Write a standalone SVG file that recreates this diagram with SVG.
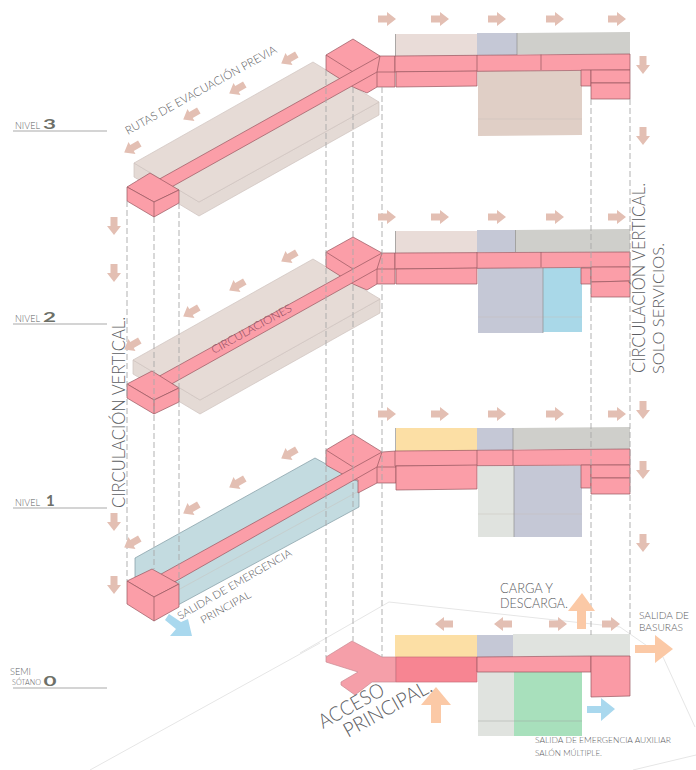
<svg xmlns="http://www.w3.org/2000/svg" width="696" height="770" viewBox="0 0 696 770">
<style>
text{font-family:"Lato","Open Sans","Liberation Sans",sans-serif;font-weight:300;fill:#5c5d62}
.p{fill:#fb9ea8;stroke:#97565f;stroke-width:.7;stroke-linejoin:round}
.pl{fill:none;stroke:#97565f;stroke-width:.7}
.dash{fill:none;stroke:#a8a8a8;stroke-width:.9;stroke-dasharray:6 3}
.slab{fill:#e6dbd6;stroke:#cfc3be;stroke-width:.7}
.slabs{fill:#e4dad5;stroke:#cfc3be;stroke-width:.7}
.teal{fill:#c3dbe0;stroke:#7f9aa2;stroke-width:.7}
.hl{stroke:#c8bdb8;stroke-width:.6;fill:none;opacity:.7}
.rule{stroke:#a9a9a9;stroke-width:1;fill:none}
.site{stroke:#e6e6e6;stroke-width:1;fill:none}
.beige{fill:#e9dcd8}.bg{fill:#c5c8d6}.gr{fill:#cfcfcb}.tan{fill:#e0cfc6}.lb{fill:#a9d8e8}.ye{fill:#fcdfa5}.lg{fill:#e0e3df}.green{fill:#a8e0bc}
.edge{stroke:#8f8f8f;stroke-width:.7;fill:none}
.num{font-weight:700;fill:#6d7068}
</style>
<defs>
<path id="ar" d="M-9,-3.500H0V-7L9,0L0,7V3.500H-9Z" fill="#e3bfb3"/>
</defs>

<g id="site-outline">
<path class="site" d="M90,770L320,643M300,653L389,602L620,627L663,657L695,727M696,755L633,770"/>
</g>

<g id="level3-left">
<path class="slabs" d="M134,163V177L199,216L379,115V102L199,202Z"/>
<path class="slab" d="M134,163L313,62L379,102L199,202Z"/>
<path class="p" d="M326,55L353,39L380,56L395,56V87H377L367,93L353,87L326,70Z"/>
<path class="pl" d="M326,55L353,72M377,72H395M377,72V87"/>
<path class="p" d="M155,181.500L380,56L377,72L167,189.500Z"/>
<path class="p" d="M127,187L150,173L179,190L154,202Z"/>
<path class="p" d="M127,187V201L154,217L179,203V190L154,202Z"/>
<path class="pl" d="M154,202V217"/>
</g>
<g id="level3-right">
<path class="beige" d="M395,34H477V56H395Z"/><path class="bg" d="M477,33H517V55H477Z"/><path class="gr" d="M517,33L630,32V54H517Z"/>
<path class="tan" d="M478,71H582V135L478,136Z"/><path class="hl" d="M478,119H582"/>
<path class="edge" d="M395.500,34V56M517,33V55"/>
<path class="p" d="M395,56L630,54V70L395,72Z"/>
<path class="p" d="M396,71.800L477,71V86L396,87Z"/>
<path class="p" d="M581,70H591V86H581Z"/>
<path class="p" d="M591,70H630V83H591Z"/>
<path class="p" d="M591,83H630V99H591Z"/>
<path class="pl" d="M477,55V71M541,54.500V70"/>
</g>

<g id="level2-left">
<path class="slabs" d="M133,360V374L200,414L380,313V299L200,400Z"/>
<path class="slab" d="M133,360L313,259L380,299L200,400Z"/>
<path class="p" d="M326,252L353,237L382,253L395,253V284H377L367,290L353,284L326,267Z"/>
<path class="pl" d="M326,252L353,269M377,269H395M377,269V284"/>
<path class="p" d="M155,378.500L382,253L377,269L167,386.500Z"/>
<path class="p" d="M127,384L152,371L179,388L154,400Z"/>
<path class="p" d="M127,384V398L154,414L179,402V388L154,400Z"/>
<path class="pl" d="M154,400V414"/>
</g>
<g id="level2-right">
<path class="beige" d="M395,231H477V253H395Z"/><path class="bg" d="M477,230H515V252H477Z"/><path class="gr" d="M515,230L630,229V252H515Z"/>
<path class="bg" d="M478,268H543V333H478Z"/><path class="lb" d="M543,268H582V332H543Z"/><path class="hl" d="M478,317H582"/>
<path class="edge" d="M395.500,231V253M515.500,230V252M543,268V333"/>
<path class="p" d="M395,253L630,252V267L395,269Z"/>
<path class="p" d="M396,269L477,268V284H396Z"/>
<path class="p" d="M581,268H591V284H581Z"/>
<path class="p" d="M591,267H630V281L591,282Z"/>
<path class="p" d="M591,282L630,281V297H591Z"/>
<path class="pl" d="M477,252V268M541,252V267"/>
</g>

<g id="level1-left">
<path class="teal" d="M135,558V577L178,605L359,507V482L315,458Z"/>
<path class="hl" d="M178,590L359,491"/>
<path class="p" d="M326,450L353,434L382,452L396,451V483H377L358,493V480L353,480L326,465Z"/>
<path class="pl" d="M326,450L353,467M377,467H396M377,467V483"/>
<path class="p" d="M155,577.400L382,452L377,467L170,584.500Z"/>
<path class="p" d="M127,581L152,569L179,584L154,597Z"/>
<path class="p" d="M127,581V604L154,621L179,607V584L154,597Z"/>
<path class="pl" d="M154,597V621"/>
</g>
<g id="level1-right">
<path class="ye" d="M396,428H477V451H396Z"/><path class="bg" d="M477,428H513V450H477Z"/><path class="gr" d="M513,428L630,427V449H513Z"/>
<path class="lg" d="M478,466H514V537H478Z"/><path class="bg" d="M514,466H582V537H514Z"/><path class="hl" d="M478,514H582"/>
<path class="edge" d="M395.500,428V451M513,428V450M514,466V537"/>
<path class="p" d="M395,451L630,449V465L395,466Z"/>
<path class="p" d="M396,466L477,465V489L396,490Z"/>
<path class="p" d="M581,465H591V488H581Z"/>
<path class="p" d="M591,465H630V478H591Z"/>
<path class="p" d="M591,478H630V494H591Z"/>
<path class="pl" d="M477,450V465M513,450V465"/>
</g>

<g id="semi-basement">
<path class="ye" d="M395,635H477V657H395Z"/><path class="bg" d="M477,635H513V657H477Z"/><path class="lg" d="M513,634H630V656H513Z"/>
<path class="lg" d="M478,672H514V736H478Z"/><path class="green" d="M514,672H582V736H514Z"/><path class="hl" d="M478,721H582" style="stroke:#9a9a9a"/>
<path d="M326,657L352,641L382,657H396V682H372L355,695L341,685V682L358,672L326,662Z" fill="#f59fa9" stroke="#c98a92" stroke-width=".7"/>
<path d="M396,657H477V682H396Z" fill="#f78592" stroke="#c76e79" stroke-width=".7"/>
<path d="M477,657L591,656V672H477Z" fill="#fa9aa5" stroke="#97565f" stroke-width=".7"/>
<path d="M591,656H630V696L591,697Z" fill="#fa9aa5" stroke="#97565f" stroke-width=".7"/>
</g>

<g id="connectors">
<path class="dash" d="M127,201V581M154,217V569M179,203V584M326,70V657M353,87V641M382,87V657M591,99V635M630,99V634"/>
</g>

<g id="arrows">
<use href="#ar" x="387" y="19"/><use href="#ar" x="440" y="19"/><use href="#ar" x="497" y="19"/><use href="#ar" x="555" y="19"/><use href="#ar" x="617" y="19"/>
<use href="#ar" x="387" y="217"/><use href="#ar" x="440" y="217"/><use href="#ar" x="497" y="217"/><use href="#ar" x="555" y="217"/><use href="#ar" x="617" y="217"/>
<use href="#ar" x="387" y="414"/><use href="#ar" x="440" y="414"/><use href="#ar" x="497" y="414"/><use href="#ar" x="555" y="414"/><use href="#ar" x="617" y="414"/>
<use href="#ar" transform="translate(643,65) rotate(90)"/><use href="#ar" transform="translate(643,136) rotate(90)"/><use href="#ar" transform="translate(643,410) rotate(90)"/><use href="#ar" transform="translate(643,470) rotate(90)"/><use href="#ar" transform="translate(643,543) rotate(90)"/>
<use href="#ar" transform="translate(114,226) rotate(90)"/><use href="#ar" transform="translate(114,273) rotate(90)"/><use href="#ar" transform="translate(114,522) rotate(90)"/><use href="#ar" transform="translate(114,585) rotate(90)"/>
<use href="#ar" transform="translate(132,148) rotate(150)"/><use href="#ar" transform="translate(191,115) rotate(150)"/><use href="#ar" transform="translate(237,89) rotate(150)"/><use href="#ar" transform="translate(289,59) rotate(150)"/>
<use href="#ar" transform="translate(132,345) rotate(150)"/><use href="#ar" transform="translate(191,312) rotate(150)"/><use href="#ar" transform="translate(237,286) rotate(150)"/><use href="#ar" transform="translate(289,257) rotate(150)"/>
<use href="#ar" transform="translate(132,543) rotate(150)"/><use href="#ar" transform="translate(191,509) rotate(150)"/><use href="#ar" transform="translate(237,483) rotate(150)"/><use href="#ar" transform="translate(289,454) rotate(150)"/>
<use href="#ar" transform="translate(444,624) rotate(180)"/><use href="#ar" transform="translate(503,624) rotate(180)"/><use href="#ar" x="558" y="624"/><use href="#ar" x="611" y="624"/>
<path d="M577,629V611H568L582,593L595,611H586V629Z" fill="#fbc9a6"/>
<path d="M635,645H655V635L673,649L655,663V653H635Z" fill="#fbc9a6"/>
<path d="M431,723V705H421L436,687L451,705H441V723Z" fill="#fbc9a6"/>
<path d="M587,706H601V698L615,709L601,721V713H587Z" fill="#a9d8ee"/>
<path d="M165,620L169,614L181,622L188,619L192,636L170,636L176,629Z" fill="#a9d8ee"/>
</g>

<g id="labels">
<text transform="translate(128,135) rotate(-29)" font-size="11.500" textLength="171" lengthAdjust="spacingAndGlyphs">RUTAS DE EVACUACIÓN PREVIA</text>
<text transform="translate(214,354) rotate(-29)" font-size="11" textLength="90" lengthAdjust="spacingAndGlyphs" style="fill:#8b4a5e">CIRCULACIONES</text>
<text transform="translate(125,508) rotate(-90)" font-size="18" textLength="191" lengthAdjust="spacingAndGlyphs">CIRCULACIÓN VERTICAL.</text>
<text transform="translate(645,373) rotate(-90)" font-size="17" textLength="190" lengthAdjust="spacingAndGlyphs">CIRCULACIÓN VERTICAL.</text>
<text transform="translate(664,374) rotate(-90)" font-size="16" textLength="131" lengthAdjust="spacingAndGlyphs">SOLO SERVICIOS.</text>
<text transform="translate(180,620) rotate(-30)" font-size="10.500" textLength="130" lengthAdjust="spacingAndGlyphs">SALIDA DE EMERGENCIA</text>
<text transform="translate(203,624) rotate(-29)" font-size="10.500" textLength="56" lengthAdjust="spacingAndGlyphs">PRINCIPAL</text>
<text transform="translate(323,729) rotate(-29)" font-size="20" textLength="72" lengthAdjust="spacingAndGlyphs">ACCESO</text>
<text transform="translate(348,738) rotate(-29)" font-size="20" textLength="98" lengthAdjust="spacingAndGlyphs">PRINCIPAL.</text>
<text x="500" y="593" font-size="13" textLength="53" lengthAdjust="spacingAndGlyphs">CARGA Y</text>
<text x="500" y="608" font-size="13" textLength="68" lengthAdjust="spacingAndGlyphs">DESCARGA.</text>
<text x="639" y="619" font-size="10.500" textLength="50" lengthAdjust="spacingAndGlyphs">SALIDA DE</text>
<text x="639" y="631" font-size="10.500" textLength="44" lengthAdjust="spacingAndGlyphs">BASURAS</text>
<text x="535" y="743" font-size="8" textLength="136" lengthAdjust="spacingAndGlyphs">SALIDA DE EMERGENCIA AUXILIAR</text>
<text x="535" y="756" font-size="8" textLength="67" lengthAdjust="spacingAndGlyphs">SALÓN MÚLTIPLE.</text>
</g>

<g id="level-tags">
<path class="rule" d="M13,131H107M13,324H107M13,508H107M13,688H107"/>
<text x="15" y="129" font-size="9.500" textLength="25" lengthAdjust="spacingAndGlyphs">NIVEL</text>
<text x="43" y="129" font-size="13" class="num" textLength="13" lengthAdjust="spacingAndGlyphs">3</text>
<text x="15" y="322" font-size="9.500" textLength="25" lengthAdjust="spacingAndGlyphs">NIVEL</text>
<text x="43" y="322" font-size="13" class="num" textLength="13" lengthAdjust="spacingAndGlyphs">2</text>
<text x="15" y="506" font-size="9.500" textLength="25" lengthAdjust="spacingAndGlyphs">NIVEL</text>
<text x="46" y="506" font-size="15" class="num">1</text>
<text x="10" y="675" font-size="10" textLength="21" lengthAdjust="spacingAndGlyphs">SEMI</text>
<text x="12" y="685" font-size="7.500" textLength="29" lengthAdjust="spacingAndGlyphs">SÓTANO</text>
<text x="43.500" y="685.500" font-size="13" class="num" textLength="13" lengthAdjust="spacingAndGlyphs">0</text>
</g>
</svg>
